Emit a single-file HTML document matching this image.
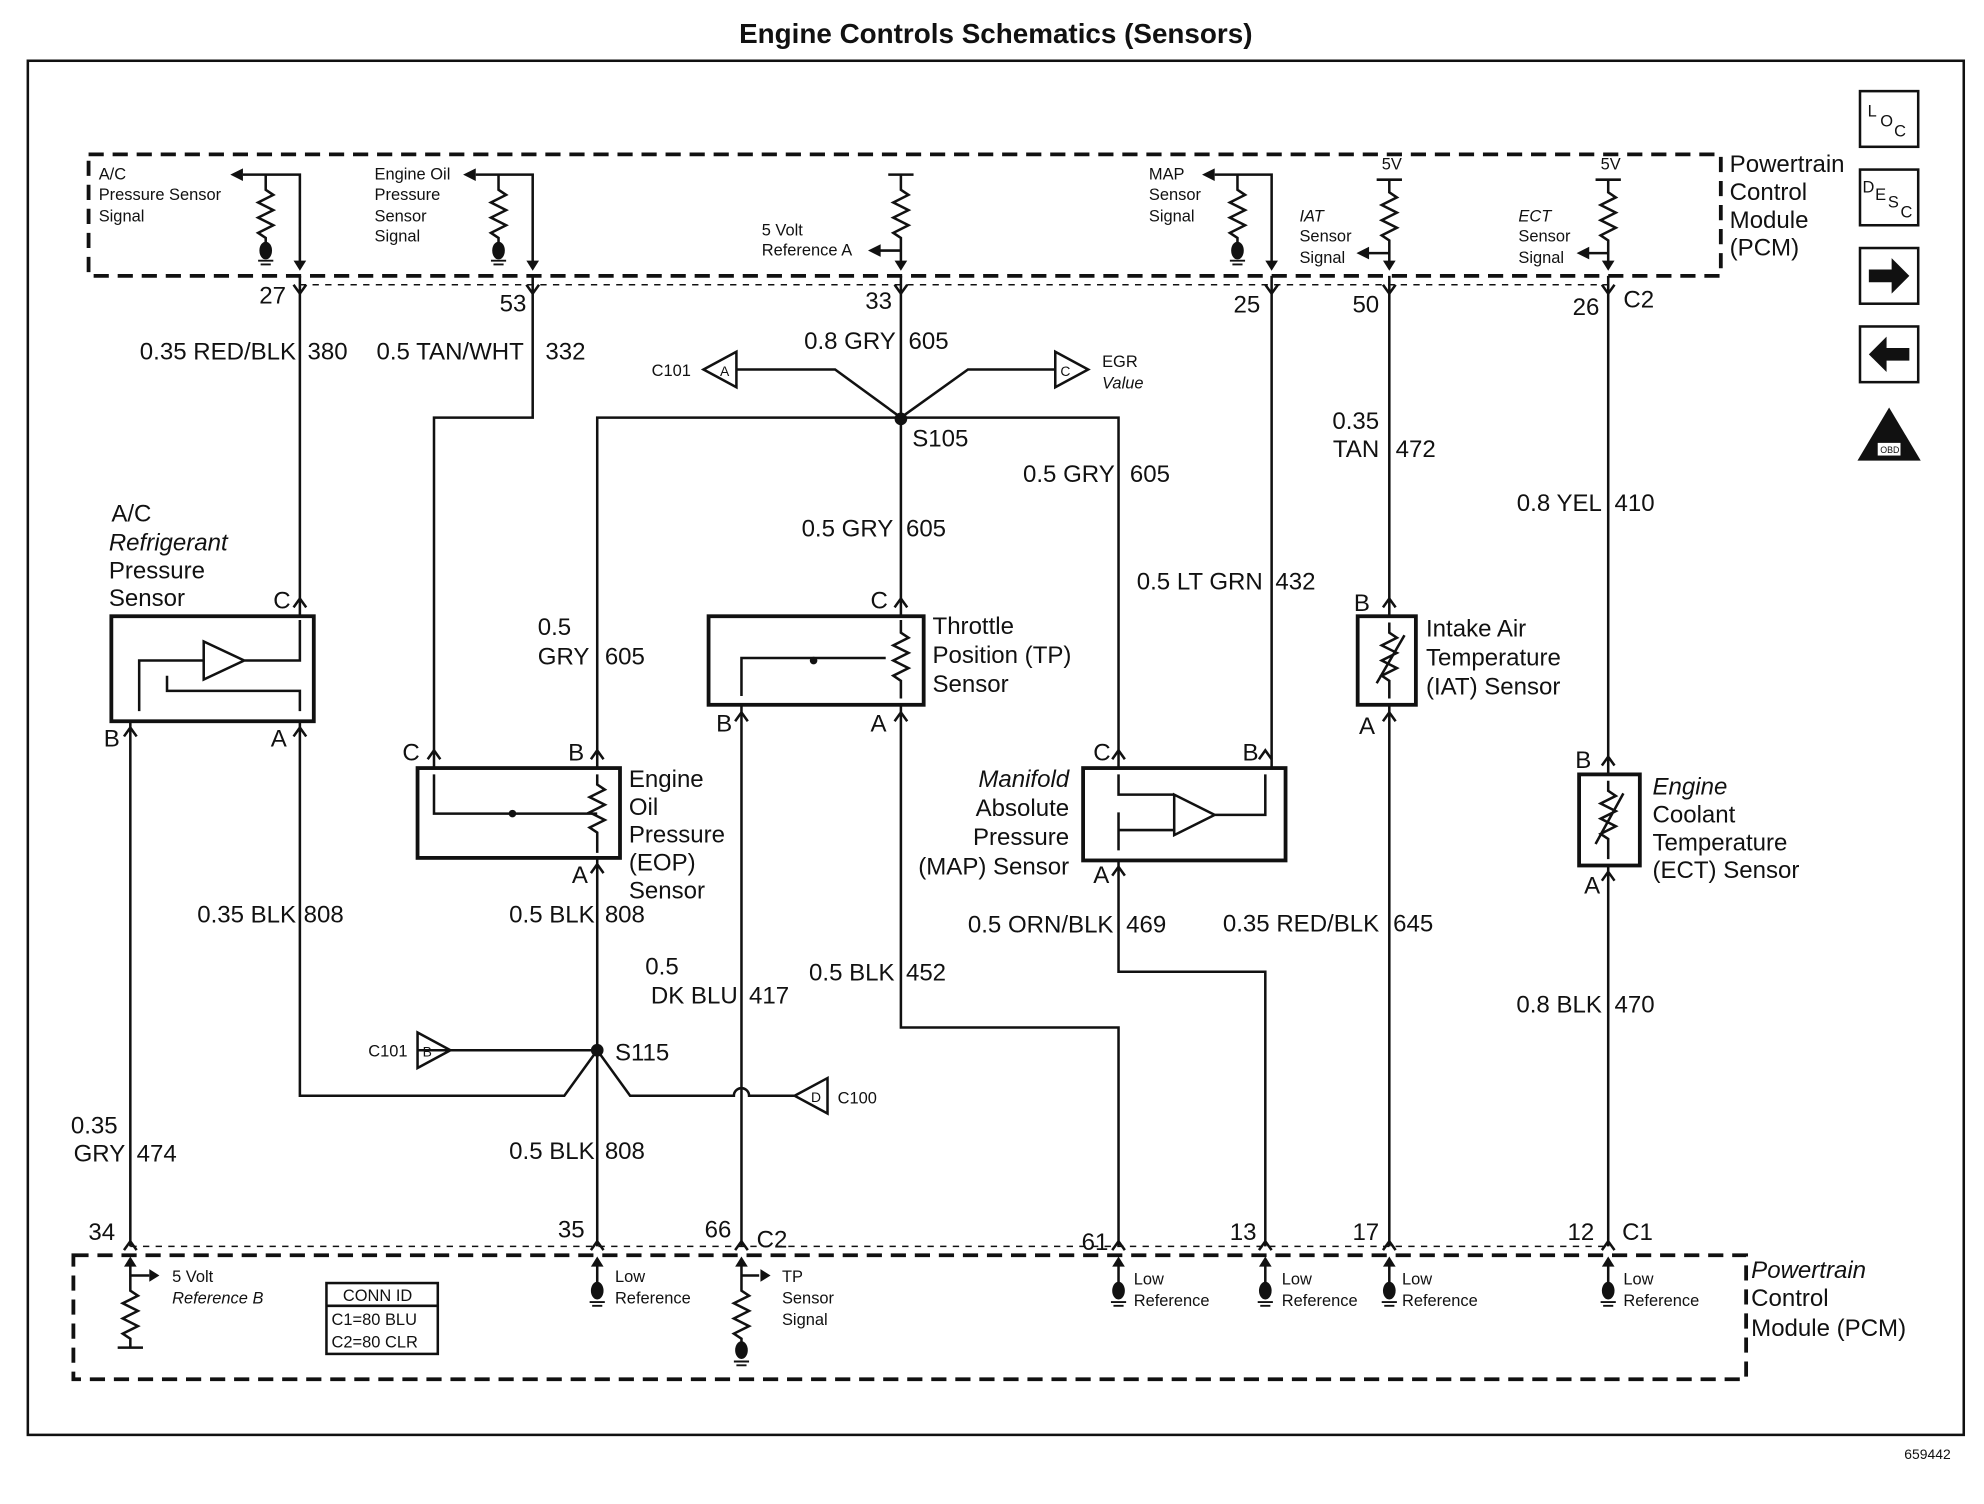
<!DOCTYPE html>
<html><head><meta charset="utf-8"><style>
html,body{margin:0;padding:0;background:#fff}
svg{display:block}
text{font-family:"Liberation Sans",Arial,sans-serif;fill:#111}
.l{font-size:19px}
.s{font-size:13px}
.i{font-style:italic}
</style></head><body>
<svg width="1984" height="1504" viewBox="0 0 1568 1188.6" xmlns="http://www.w3.org/2000/svg">
<g fill="none" stroke="#111" stroke-width="2">
<rect x="22" y="48" width="1530" height="1086" stroke-width="2"/>
<rect x="70" y="122" width="1290" height="96" stroke-dasharray="12,7" stroke-width="3"/>
<rect x="58" y="992" width="1322" height="98" stroke-dasharray="12,7" stroke-width="3"/>
<line x1="237" y1="225" x2="1271" y2="225" stroke-dasharray="5,5" stroke-width="1.2"/>
<line x1="103" y1="985" x2="1271" y2="985" stroke-dasharray="5,5" stroke-width="1.2"/>
<path d="M237 218 V487"/>
<path d="M421 218 V330 H343 V607"/>
<path d="M712 218 V487"/>
<path d="M472 607 V330 H884 V607"/>
<path d="M1005 218 V607"/>
<path d="M1098 218 V487"/>
<path d="M1271 218 V612"/>
<path d="M103 570 V985"/>
<path d="M237 570 V866 H446 L472 830"/>
<path d="M472 678 V985"/>
<path d="M330 830 H472 L498 866 H580 A6 6 0 0 1 592 866 H628"/>
<path d="M586 557 V985"/>
<path d="M712 557 V812 H884 V985"/>
<path d="M884 680 V768 H1000 V985"/>
<path d="M1098 557 V985"/>
<path d="M1271 684 V985"/>
<path d="M712 330 L660 292 H582"/>
<path d="M712 330 L765 292 H834"/>
<path d="M582 278 L556 292 L582 306 Z"/>
<path d="M834 278 L860 292 L834 306 Z"/>
<path d="M330 816 L356 830 L330 844 Z"/>
<path d="M654 852 L628 866 L654 880 Z"/>
<rect x="88" y="487" width="160" height="83" stroke-width="3"/>
<path d="M237 490 V522 H193 M161 507 V537 L193 522 Z M161 522 H110 V562 M132 534 V546 H237 V562"/>
<rect x="330" y="607" width="160" height="71" stroke-width="3"/>
<path d="M343 612 V643 H472"/>
<rect x="560" y="487" width="170" height="70" stroke-width="3"/>
<path d="M586 550 V520 H700"/>
<rect x="856" y="607" width="160" height="73" stroke-width="3"/>
<path d="M884 612 V628 H928 M928 628 V660 L960 644 Z M960 644 H1000 V612 M884 642 V672 M884 656 H928"/>
<rect x="1073" y="487" width="46" height="70" stroke-width="3"/>
<rect x="1248" y="612" width="48" height="72" stroke-width="3"/>
<path d="M712 490 V500 l6 4 l-12 6 l12 6 l-12 6 l12 6 l-12 6 l6 4 V552"/>
<path d="M472 612 V620 l6 4 l-12 6 l12 6 l-12 6 l12 6 l-12 6 l6 4 V674"/>
<path d="M1098 492 V500 l6 4 l-12 6 l12 6 l-12 6 l12 6 l-12 6 l6 4 V552 M1088 540 L1110 502"/>
<path d="M1271 617 V625 l6 4 l-12 6 l12 6 l-12 6 l12 6 l-12 6 l6 4 V679 M1261 667 L1283 627"/>
<path d="M210 138 V150 l6 4 l-12 6 l12 6 l-12 6 l12 6 l-12 6 l6 4 V196 M210 138 H237 V212 M210 138 H192"/>
<path d="M394 138 V150 l6 4 l-12 6 l12 6 l-12 6 l12 6 l-12 6 l6 4 V196 M394 138 H421 V212 M394 138 H376"/>
<path d="M712 138 V150 l6 4 l-12 6 l12 6 l-12 6 l12 6 l-12 6 l6 4 V212 M702 138 H722 M712 198 H694"/>
<path d="M978 138 V150 l6 4 l-12 6 l12 6 l-12 6 l12 6 l-12 6 l6 4 V196 M978 138 H1005 V212 M978 138 H960"/>
<path d="M1098 142 V152 l6 4 l-12 6 l12 6 l-12 6 l12 6 l-12 6 l6 4 V212 M1088 142 H1108 M1098 200 H1080"/>
<path d="M1271 142 V152 l6 4 l-12 6 l12 6 l-12 6 l12 6 l-12 6 l6 4 V212 M1261 142 H1281 M1271 200 H1254"/>
<path d="M103 995 V1020 l6 4 l-12 6 l12 6 l-12 6 l12 6 l-12 6 l6 4 V1065 M93 1065 H113 M103 1008 H118"/>
<path d="M586 995 V1020 l6 4 l-12 6 l12 6 l-12 6 l12 6 l-12 6 l6 4 V1062 M586 1008 H600"/>
<path d="M472 995 V1018 M884 995 V1018 M1000 995 V1018 M1098 995 V1018 M1271 995 V1018"/>
<path d="M232 225 L237 232 L242 225 M416 225 L421 232 L426 225 M707 225 L712 232 L717 225 M1000 225 L1005 232 L1010 225 M1093 225 L1098 232 L1103 225 M1266 225 L1271 232 L1276 225"/>
<path d="M98 988 L103 981 L108 988 M467 988 L472 981 L477 988 M581 988 L586 981 L591 988 M879 988 L884 981 L889 988 M995 988 L1000 981 L1005 988 M1093 988 L1098 981 L1103 988 M1266 988 L1271 981 L1276 988"/>
<path d="M232 480 L237 473 L242 480 M98 582 L103 575 L108 582 M232 582 L237 575 L242 582 M338 600 L343 593 L348 600 M467 600 L472 593 L477 600 M467 690 L472 683 L477 690 M707 480 L712 473 L717 480 M581 570 L586 563 L591 570 M707 570 L712 563 L717 570 M879 600 L884 593 L889 600 M995 600 L1000 593 L1005 600 M879 692 L884 685 L889 692 M1093 480 L1098 473 L1103 480 M1093 570 L1098 563 L1103 570 M1266 605 L1271 598 L1276 605 M1266 696 L1271 689 L1276 696"/>
<rect x="258" y="1014" width="88" height="56"/>
<line x1="258" y1="1032" x2="346" y2="1032"/>
<rect x="1470" y="72" width="46" height="44"/>
<rect x="1470" y="134" width="46" height="44"/>
<rect x="1470" y="196" width="46" height="44"/>
<rect x="1470" y="258" width="46" height="44"/>
</g>
<g fill="#111">
<circle cx="712" cy="331" r="5"/><circle cx="472" cy="830" r="5"/>
<circle cx="643" cy="522" r="3"/><circle cx="405" cy="643" r="3"/>
<ellipse cx="210" cy="198" rx="5" ry="7"/><ellipse cx="394" cy="198" rx="5" ry="7"/><ellipse cx="978" cy="198" rx="5" ry="7"/>
<ellipse cx="586" cy="1067" rx="5" ry="7"/>
<ellipse cx="472" cy="1020" rx="5" ry="7"/><ellipse cx="884" cy="1020" rx="5" ry="7"/><ellipse cx="1000" cy="1020" rx="5" ry="7"/><ellipse cx="1098" cy="1020" rx="5" ry="7"/><ellipse cx="1271" cy="1020" rx="5" ry="7"/>
<path d="M182 138 l10 -5 v10 Z M366 138 l10 -5 v10 Z M950 138 l10 -5 v10 Z M686 198 l10 -5 v10 Z M1072 200 l10 -5 v10 Z M1246 200 l10 -5 v10 Z"/>
<path d="M237 214 l-5 -8 h10 Z M421 214 l-5 -8 h10 Z M712 214 l-5 -8 h10 Z M1005 214 l-5 -8 h10 Z M1098 214 l-5 -8 h10 Z M1271 214 l-5 -8 h10 Z"/>
<path d="M126 1008 l-8 -5 v10 Z M609 1008 l-8 -5 v10 Z"/>
<path d="M103 993 l-5 8 h10 Z M472 993 l-5 8 h10 Z M586 993 l-5 8 h10 Z M884 993 l-5 8 h10 Z M1000 993 l-5 8 h10 Z M1098 993 l-5 8 h10 Z M1271 993 l-5 8 h10 Z"/>
<path d="M1477 213 h18 v-9 l14 14 l-14 14 v-9 h-18 Z"/>
<path d="M1509 275 h-18 v-9 l-14 14 l14 14 v-9 h18 Z"/>
<path d="M1493 322 L1518 364 H1468 Z"/>
</g>
<rect x="1484" y="350" width="18" height="10" fill="#fff"/>
<g stroke="#111" stroke-width="1.5">
<path d="M204 206 h12 M206 209 h8 M388 206 h12 M390 209 h8 M972 206 h12 M974 209 h8 M580 1076 h12 M582 1079 h8 M466 1029 h12 M468 1032 h8 M878 1029 h12 M880 1032 h8 M994 1029 h12 M996 1032 h8 M1092 1029 h12 M1094 1032 h8 M1265 1029 h12 M1267 1032 h8"/>
</g>
<text x="787" y="34" text-anchor="middle" font-size="22" font-weight="bold">Engine Controls Schematics (Sensors)</text>
<text x="1486" y="358" font-size="7">OBD II</text>
<g class="s">
<text x="78" y="142">A/C</text><text x="78" y="158">Pressure Sensor</text><text x="78" y="175">Signal</text>
<text x="296" y="142">Engine Oil</text><text x="296" y="158">Pressure</text><text x="296" y="175">Sensor</text><text x="296" y="191">Signal</text>
<text x="602" y="186">5 Volt</text><text x="602" y="202">Reference A</text>
<text x="908" y="142">MAP</text><text x="908" y="158">Sensor</text><text x="908" y="175">Signal</text>
<text x="1027" y="175" class="i">IAT</text><text x="1027" y="191">Sensor</text><text x="1027" y="208">Signal</text>
<text x="1092" y="134">5V</text><text x="1265" y="134">5V</text>
<text x="1200" y="175" class="i">ECT</text><text x="1200" y="191">Sensor</text><text x="1200" y="208">Signal</text>
<text x="515" y="297">C101</text><text x="871" y="290">EGR</text><text x="871" y="307" class="i">Value</text>
<text x="291" y="835">C101</text><text x="662" y="872">C100</text>
<text x="569" y="297" font-size="11">A</text><text x="838" y="297" font-size="11">C</text><text x="334" y="835" font-size="11">B</text><text x="641" y="871" font-size="11">D</text>
<text x="136" y="1013">5 Volt</text><text x="136" y="1030" class="i">Reference B</text>
<text x="271" y="1028">CONN ID</text><text x="262" y="1047">C1=80 BLU</text><text x="262" y="1065">C2=80 CLR</text>
<text x="486" y="1013">Low</text><text x="486" y="1030">Reference</text>
<text x="618" y="1013">TP</text><text x="618" y="1030">Sensor</text><text x="618" y="1047">Signal</text>
<text x="896" y="1015">Low</text><text x="896" y="1032">Reference</text>
<text x="1013" y="1015">Low</text><text x="1013" y="1032">Reference</text>
<text x="1108" y="1015">Low</text><text x="1108" y="1032">Reference</text>
<text x="1283" y="1015">Low</text><text x="1283" y="1032">Reference</text>
<text x="1505" y="1153" font-size="11">659442</text>
<text x="1476" y="92">L</text><text x="1486" y="100">O</text><text x="1497" y="108">C</text>
<text x="1472" y="152">D</text><text x="1482" y="158">E</text><text x="1492" y="164">S</text><text x="1502" y="172">C</text>
</g>
<g class="l">
<text x="1367" y="136">Powertrain</text><text x="1367" y="158">Control</text><text x="1367" y="180">Module</text><text x="1367" y="202">(PCM)</text>
<text x="1384" y="1010" class="i">Powertrain</text><text x="1384" y="1032">Control</text><text x="1384" y="1056">Module (PCM)</text>
<text x="226" y="240" text-anchor="end">27</text><text x="416" y="246" text-anchor="end">53</text><text x="705" y="244" text-anchor="end">33</text><text x="996" y="247" text-anchor="end">25</text><text x="1090" y="247" text-anchor="end">50</text><text x="1264" y="249" text-anchor="end">26</text><text x="1283" y="243">C2</text>
<text x="234" y="284" text-anchor="end">0.35 RED/BLK</text><text x="243" y="284">380</text>
<text x="414" y="284" text-anchor="end">0.5 TAN/WHT</text><text x="431" y="284">332</text>
<text x="708" y="276" text-anchor="end">0.8 GRY</text><text x="718" y="276">605</text>
<text x="721" y="353">S105</text>
<text x="881" y="381" text-anchor="end">0.5 GRY</text><text x="893" y="381">605</text>
<text x="706" y="424" text-anchor="end">0.5 GRY</text><text x="716" y="424">605</text>
<text x="998" y="466" text-anchor="end">0.5 LT GRN</text><text x="1008" y="466">432</text>
<text x="1090" y="339" text-anchor="end">0.35</text><text x="1090" y="361" text-anchor="end">TAN</text><text x="1103" y="361">472</text>
<text x="1266" y="404" text-anchor="end">0.8 YEL</text><text x="1276" y="404">410</text>
<text x="88" y="412">A/C</text><text x="86" y="435" class="i">Refrigerant</text><text x="86" y="457">Pressure</text><text x="86" y="479">Sensor</text>
<text x="216" y="481">C</text><text x="82" y="590">B</text><text x="214" y="590">A</text>
<text x="425" y="502">0.5</text><text x="425" y="525">GRY</text><text x="478" y="525">605</text>
<text x="688" y="481">C</text><text x="566" y="578">B</text><text x="688" y="578">A</text>
<text x="737" y="501">Throttle</text><text x="737" y="524">Position (TP)</text><text x="737" y="547">Sensor</text>
<text x="1070" y="483">B</text><text x="1074" y="580">A</text>
<text x="1127" y="503">Intake Air</text><text x="1127" y="526">Temperature</text><text x="1127" y="549">(IAT) Sensor</text>
<text x="318" y="601">C</text><text x="449" y="601">B</text><text x="452" y="698">A</text>
<text x="497" y="622">Engine</text><text x="497" y="644">Oil</text><text x="497" y="666">Pressure</text><text x="497" y="688">(EOP)</text><text x="497" y="710">Sensor</text>
<text x="864" y="601">C</text><text x="982" y="601">B</text><text x="864" y="698">A</text>
<text x="845" y="622" text-anchor="end" class="i">Manifold</text><text x="845" y="645" text-anchor="end">Absolute</text><text x="845" y="668" text-anchor="end">Pressure</text><text x="845" y="691" text-anchor="end">(MAP) Sensor</text>
<text x="1245" y="607">B</text><text x="1252" y="706">A</text>
<text x="1306" y="628" class="i">Engine</text><text x="1306" y="650">Coolant</text><text x="1306" y="672">Temperature</text><text x="1306" y="694">(ECT) Sensor</text>
<text x="234" y="729" text-anchor="end">0.35 BLK</text><text x="240" y="729">808</text>
<text x="470" y="729" text-anchor="end">0.5 BLK</text><text x="478" y="729">808</text>
<text x="510" y="770">0.5</text><text x="583" y="793" text-anchor="end">DK BLU</text><text x="592" y="793">417</text>
<text x="707" y="775" text-anchor="end">0.5 BLK</text><text x="716" y="775">452</text>
<text x="880" y="737" text-anchor="end">0.5 ORN/BLK</text><text x="890" y="737">469</text>
<text x="1090" y="736" text-anchor="end">0.35 RED/BLK</text><text x="1101" y="736">645</text>
<text x="1266" y="800" text-anchor="end">0.8 BLK</text><text x="1276" y="800">470</text>
<text x="486" y="838">S115</text>
<text x="56" y="896">0.35</text><text x="99" y="918" text-anchor="end">GRY</text><text x="108" y="918">474</text>
<text x="470" y="916" text-anchor="end">0.5 BLK</text><text x="478" y="916">808</text>
<text x="91" y="980" text-anchor="end">34</text><text x="462" y="978" text-anchor="end">35</text><text x="578" y="978" text-anchor="end">66</text><text x="598" y="986">C2</text>
<text x="876" y="988" text-anchor="end">61</text><text x="993" y="980" text-anchor="end">13</text><text x="1090" y="980" text-anchor="end">17</text><text x="1260" y="980" text-anchor="end">12</text><text x="1282" y="980">C1</text>
</g>
</svg>
</body></html>
